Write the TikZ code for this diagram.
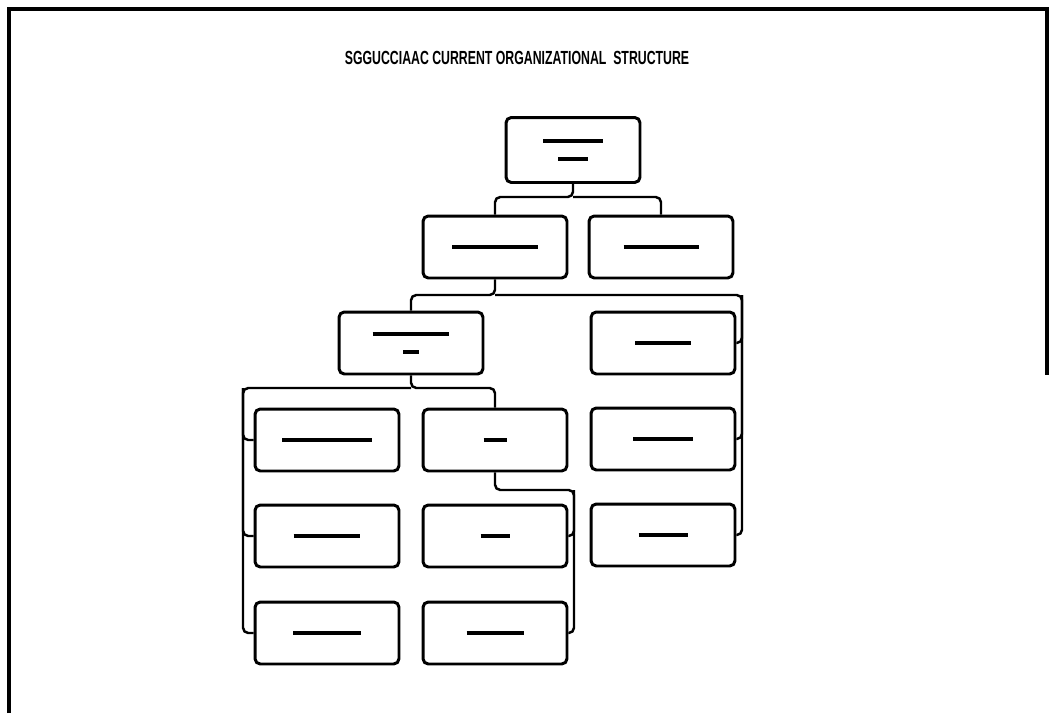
\documentclass[tikz,border=0pt]{standalone}
\usepackage{graphicx}
\usepackage{fontspec}
\setmainfont{Liberation Sans}
\usetikzlibrary{positioning,calc}

\newcommand{\blobline}[1]{\rule{#1}{0.08cm}}

\begin{document}
\begin{tikzpicture}[x=0.02cm,y=-0.02cm,thick,
  org box/.style={draw,line width=1.7pt,rounded corners=3pt,minimum width=2.88cm,
    minimum height=1.24cm,inner sep=0pt,align=center},
  blob/.style={line width=1.4pt,rounded corners=3pt}]

  \useasboundingbox (0,0) rectangle (1050,713);
  % scanned page frame
  \draw[line width=2.2pt] (9,713) -- (9,9) -- (1047,9) -- (1047,375);

  \node (title) at (517,58) {\scalebox{0.68}[1.05]{\fontsize{10.3}{12}\bfseries\selectfont
    SGGUCCIAAC CURRENT ORGANIZATIONAL\ \ STRUCTURE}};

  \node[org box,minimum width=2.68cm,minimum height=1.3cm] (top) at (573,150)
    {\blobline{1.2cm}\\[-2pt]\blobline{0.6cm}};

  \node[org box] (A) at (495,247) {\blobline{1.72cm}};
  \node[org box] (B) at (661,247) {\blobline{1.5cm}};

  \node[org box] (C) at (411,343) {\blobline{1.54cm}\\[-2pt]\blobline{0.32cm}};
  \node[org box] (D) at (663,343) {\blobline{1.12cm}};

  \node[org box] (G) at (327,440) {\blobline{1.8cm}};
  \node[org box] (J) at (495,440) {\blobline{0.46cm}};
  \node[org box] (E) at (663,439) {\blobline{1.2cm}};

  \node[org box] (H) at (327,536) {\blobline{1.34cm}};
  \node[org box] (K) at (495,536) {\blobline{0.58cm}};
  \node[org box] (F) at (663,535) {\blobline{0.98cm}};

  \node[org box] (I) at (327,633) {\blobline{1.36cm}};
  \node[org box] (L) at (495,633) {\blobline{1.14cm}};

  % rails
  \coordinate (topbus) at (573,197);
  \coordinate (rightrail) at (742,295);
  \coordinate (leftrail) at (243,388);
  \coordinate (jrail) at (574,490);

  \draw[blob] (top.south) -- (topbus) -| (A.north);
  \draw[blob] (topbus) -| (B.north);

  \draw[blob] (A.south) -- (A.south |- rightrail) -| (C.north);
  \draw[blob] (A.south |- rightrail) -- (rightrail) |- (F.east);
  \draw[blob] (rightrail) |- (D.east);
  \draw[blob] (rightrail) |- (E.east);

  \draw[blob] (C.south) -- (C.south |- leftrail) -| (J.north);
  \draw[blob] (C.south |- leftrail) -- (leftrail) |- (I.west);
  \draw[blob] (leftrail) |- (G.west);
  \draw[blob] (leftrail) |- (H.west);

  \draw[blob] (J.south) |- (jrail) |- (L.east);
  \draw[blob] (jrail) |- (K.east);
\end{tikzpicture}
\end{document}
